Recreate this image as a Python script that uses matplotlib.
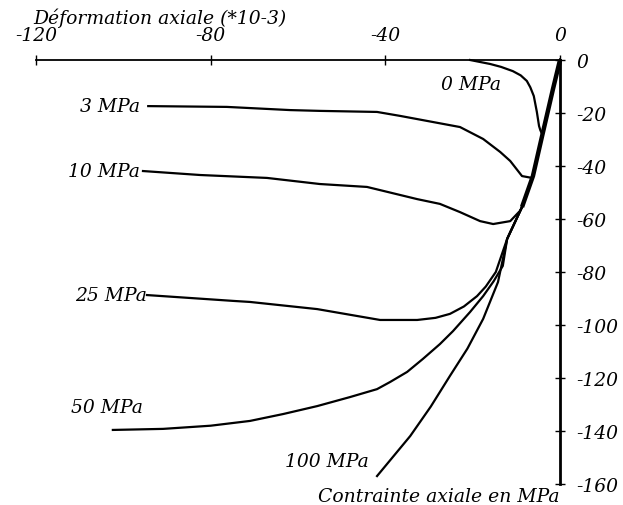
import matplotlib.pyplot as plt

# courbes contrainte / deformation axiale (essais triaxiaux)
load_x = [0, -1.6, -4.1, -6.2, -8.7]
load_y = [0, -10.9, -28.7, -43.8, -55.5]

c0_x = [0, -1.6, -4.1, -4.5, -4.8, -5.3, -6.0, -6.8, -7.6, -9.0, -10.8, -13.5, -16.0, -20.6]
c0_y = [0, -10.9, -27.9, -26.5, -24.9, -19.6, -13.6, -10.3, -7.9, -5.8, -4.2, -2.6, -1.5, 0]

c3_x = [0, -1.6, -4.1, -6.4, -8.7, -11.4, -13.7, -17.6, -22.9, -29.1, -36.6, -41.9, -55.0, -61.8, -76.3, -94.3]
c3_y = [0, -10.9, -28.7, -44.5, -43.8, -38.1, -34.7, -29.8, -25.3, -23.4, -21.1, -19.6, -19.2, -18.9, -17.7, -17.4]

c10_x = [0, -1.6, -4.1, -6.2, -8.7, -9.2, -11.4, -15.3, -18.3, -22.9, -27.5, -32.7, -44.2, -55.0, -67.1, -82.4, -95.5]
c10_y = [0, -10.9, -28.7, -43.8, -55.5, -57.0, -60.8, -61.9, -60.8, -57.4, -54.3, -52.5, -47.9, -46.8, -44.5, -43.4, -41.9]

c25_x = [0, -1.6, -4.1, -6.2, -8.7, -12.1, -14.7, -17.0, -19.0, -22.0, -25.2, -28.5, -32.7, -41.2, -55.6, -71.0, -74.9, -94.6]
c25_y = [0, -10.9, -28.7, -43.8, -55.5, -67.5, -80.0, -85.5, -89.1, -93.0, -95.8, -97.3, -98.1, -98.1, -94.0, -91.3, -90.9, -88.7]

c50_x = [0, -1.6, -4.1, -6.2, -8.7, -12.1, -13.1, -15.2, -17.6, -20.6, -24.5, -27.5, -31.4, -35.0, -38.9, -41.9,
         -48.1, -55.6, -63.4, -71.0, -80.0, -90.9, -102.4]
c50_y = [0, -10.9, -28.7, -43.8, -55.5, -67.5, -77.7, -83.5, -89.1, -95.1, -102.3, -107.2, -112.8, -117.7, -121.5, -124.2,
         -127.2, -130.6, -133.6, -136.2, -138.0, -139.2, -139.6]

c100_x = [0, -1.6, -4.1, -6.2, -8.7, -12.1, -14.2, -17.6, -21.2, -25.2, -29.6, -34.3, -41.9]
c100_y = [0, -10.9, -28.7, -43.8, -55.5, -67.5, -83.8, -97.7, -108.9, -119.2, -130.8, -141.9, -157.0]

xticks = [-120, -80, -40, 0]
yticks = [0, -20, -40, -60, -80, -100, -120, -140, -160]

plt.rcParams['font.family'] = 'DejaVu Serif'
plt.rcParams['font.style'] = 'italic'
plt.rcParams['axes.unicode_minus'] = False

fig = plt.figure(figsize=(6.23, 5.06), dpi=100)
ax = fig.add_axes([36/623, 21/506, 524/623, 424/506])

curves = [(c0_x, c0_y), (c3_x, c3_y), (c10_x, c10_y), (c25_x, c25_y),
          (c50_x, c50_y), (c100_x, c100_y)]
for cx, cy in curves:
    ax.plot(cx, cy, color='black', lw=1.6, clip_on=False, solid_joinstyle='round')
ax.plot(load_x, load_y, color='black', lw=3.2, clip_on=False, solid_capstyle='butt')

fs = 13.5
ax.text(-20.4, -9.1, '0 MPa', ha='center', va='center', fontsize=fs)
ax.text(c3_x[-1] - 1.8, c3_y[-1], '3 MPa', ha='right', va='center', fontsize=fs)
ax.text(c10_x[-1] - 0.6, c10_y[-1], '10 MPa', ha='right', va='center', fontsize=fs)
ax.text(c25_x[-1], c25_y[-1], '25 MPa', ha='right', va='center', fontsize=fs)
ax.text(-103.7, -131.0, '50 MPa', ha='center', va='center', fontsize=fs)
ax.text(-53.4, -151.3, '100 MPa', ha='center', va='center', fontsize=fs)

ax.set_xlim(-120, 0)
ax.set_ylim(-160, 0)
ax.patch.set_visible(False)
for s in ['left', 'bottom']:
    ax.spines[s].set_visible(False)
ax.spines['top'].set_linewidth(1.3)
ax.spines['right'].set_linewidth(2.0)
ax.xaxis.tick_top()
ax.yaxis.tick_right()
ax.set_xticks(xticks)
ax.set_yticks(yticks)
ax.tick_params(axis='x', direction='inout', length=7, width=1, pad=8, labelsize=fs)
ax.tick_params(axis='y', direction='inout', length=7, width=1, pad=8, labelsize=fs)

fig.text(33/623, 1 - 18/506, 'Déformation axiale (*10-3)', ha='left', va='center', fontsize=fs)
fig.text(560/623, 1 - 497/506, 'Contrainte axiale en MPa', ha='right', va='center', fontsize=fs)

fig.savefig('out.png', dpi=100)
